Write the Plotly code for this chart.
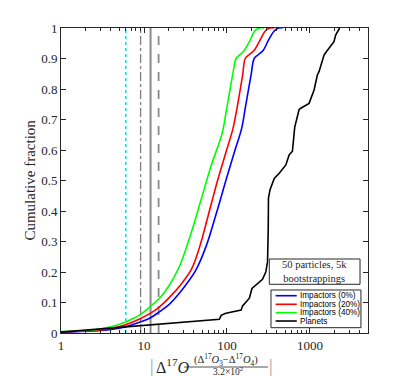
import plotly.graph_objects as go

# ---------------- data ----------------
blue_x = [1, 2.44, 4, 6.1, 9, 12, 15.4, 20, 26.8, 34, 42.5, 56, 74, 97, 125, 150, 166, 195, 213, 240, 274, 316, 371, 420, 467]
blue_y = [0.003, 0.007, 0.012, 0.021, 0.036, 0.05, 0.07, 0.093, 0.131, 0.168, 0.208, 0.284, 0.39, 0.5, 0.6, 0.67, 0.737, 0.846, 0.9, 0.913, 0.927, 0.96, 0.99, 1.0, 1.0]

red_x = [1, 2.44, 4, 6.1, 9, 12, 15.4, 20, 28, 37.5, 47, 60, 77, 99, 118, 132, 154.5, 166, 186, 213, 250, 289, 330, 371]
red_y = [0.004, 0.008, 0.015, 0.028, 0.047, 0.065, 0.086, 0.115, 0.16, 0.21, 0.284, 0.39, 0.5, 0.6, 0.67, 0.737, 0.846, 0.9, 0.913, 0.927, 0.96, 0.99, 1.0, 1.0]

green_x = [1, 2.44, 4, 6.1, 9, 12, 15.4, 20, 26.8, 37, 48.7, 64, 87.4, 99.3, 117, 128.5, 141, 157, 186, 213, 245, 280]
green_y = [0.005, 0.01, 0.02, 0.037, 0.06, 0.088, 0.114, 0.155, 0.219, 0.328, 0.437, 0.546, 0.655, 0.737, 0.846, 0.9, 0.911, 0.922, 0.955, 0.988, 1.0, 1.0]

planets_x = [1, 81, 85, 95, 107, 148, 154, 186, 200, 234, 268, 294, 308, 314, 316, 330, 371, 426, 512, 561, 614,
             655, 738, 775, 975, 1120, 1227, 1285, 1477, 1574, 1946, 2039, 2277]
planets_y = [0.003, 0.045, 0.058, 0.064, 0.067, 0.075, 0.089, 0.114, 0.146, 0.163, 0.176, 0.201, 0.234, 0.34, 0.442,
             0.47, 0.507, 0.524, 0.551, 0.584, 0.596, 0.675, 0.732, 0.737, 0.753, 0.797, 0.846, 0.857, 0.911, 0.922,
             0.955, 0.977, 1.0]

vline_x = [6.03, 9.1, 12.0, 15.0]
vline_y = [0, 1]

series_names = ["Impactors (0%)", "Impactors (20%)", "Impactors (40%)", "Planets"]
series_colors = ["#0000FF", "#FF0000", "#00FF00", "#000000"]
y_tickvals = [0, 0.1, 0.2, 0.3, 0.4, 0.5, 0.6, 0.7, 0.8, 0.9, 1]
y_ticktext = ["0", "0.1", "0.2", "0.3", "0.4", "0.5", "0.6", "0.7", "0.8", "0.9", "1"]
x_tickvals = [1, 10, 100, 1000]
x_ticktext = ["1", "10", "100", "1000"]
x_minor_tickvals = [2, 3, 4, 5, 6, 7, 8, 9, 20, 30, 40, 50, 60, 70, 80, 90,
                    200, 300, 400, 500, 600, 700, 800, 900, 2000, 3000, 4000]

# ---------------- figure ----------------
fig = go.Figure()

vstyles = [
    dict(color="#00E5EE", dash="dot", width=1.6),
    dict(color="#7f7f7f", dash="dashdot", width=1.3),
    dict(color="#8a8a8a", dash="solid", width=2),
    dict(color="#8a8a8a", dash="dash", width=1.8),
]
for vx, st in zip(vline_x, vstyles):
    fig.add_trace(go.Scatter(x=[vx, vx], y=vline_y, mode="lines", line=st,
                             showlegend=False, hoverinfo="skip"))

curves = [(blue_x, blue_y), (red_x, red_y), (green_x, green_y)]
for (cx, cy), nm, col in zip(curves, series_names[:3], series_colors[:3]):
    fig.add_trace(go.Scatter(x=cx, y=cy, mode="lines", name=nm, showlegend=False,
                             line=dict(color=col, width=1.6, shape="spline", smoothing=1.0)))
fig.add_trace(go.Scatter(x=planets_x, y=planets_y, mode="lines", name=series_names[3], showlegend=False,
                         line=dict(color=series_colors[3], width=1.6)))

serif = "Liberation Serif"
axis_col = "#262626"

fig.update_layout(
    width=415, height=376, autosize=False,
    margin=dict(l=61, r=47, t=28, b=43),
    paper_bgcolor="white", plot_bgcolor="white",
    font=dict(family=serif, size=13, color=axis_col),
    showlegend=False,
)
fig.update_xaxes(
    type="log", range=[0, 3.699], showgrid=False, zeroline=False, automargin=False,
    tickvals=x_tickvals, ticktext=x_ticktext,
    ticks="inside", ticklen=5, tickcolor=axis_col, tickwidth=1,
    showline=True, linecolor=axis_col, linewidth=1, mirror="ticks",
    minor=dict(tickvals=x_minor_tickvals, ticks="inside", ticklen=3, tickcolor=axis_col, showgrid=False),
    tickfont=dict(family=serif, size=13, color=axis_col),
)
fig.update_yaxes(
    range=[0, 1], showgrid=False, zeroline=False, automargin=False,
    tickvals=y_tickvals, ticktext=y_ticktext,
    ticks="inside", ticklen=5, tickcolor=axis_col, tickwidth=1,
    showline=True, linecolor=axis_col, linewidth=1, mirror="ticks",
    tickfont=dict(family=serif, size=13, color=axis_col),
)

# y axis title
fig.add_annotation(xref="paper", yref="paper", x=-0.104, y=0.5, xanchor="center", yanchor="middle",
                   text="Cumulative fraction", textangle=-90, showarrow=False,
                   font=dict(family=serif, size=15, color=axis_col))

# text box
fig.add_shape(type="rect", xref="paper", yref="paper", x0=0.6785, x1=0.974, y0=0.1597, y1=0.2426,
              line=dict(color=axis_col, width=1), fillcolor="white", layer="above")
fig.add_annotation(xref="paper", yref="paper", x=0.826, y=0.201, xanchor="center", yanchor="middle",
                   text="50 particles, 5k<br>bootstrappings", showarrow=False,
                   font=dict(family=serif, size=10.5, color=axis_col))

# manual legend
fig.add_shape(type="rect", xref="paper", yref="paper", x0=0.684, x1=0.977, y0=0.0174, y1=0.141,
              line=dict(color=axis_col, width=1), fillcolor="white", layer="above")
legend_rows = [0.1223, 0.0941, 0.0666, 0.0393]
for nm, col, ry in zip(series_names, series_colors, legend_rows):
    fig.add_shape(type="line", xref="paper", yref="paper", x0=0.699, x1=0.768, y0=ry, y1=ry,
                  line=dict(color=col, width=1.6), layer="above")
    fig.add_annotation(xref="paper", yref="paper", x=0.771, y=ry, xanchor="left", yanchor="middle",
                       text=nm, showarrow=False,
                       font=dict(family="Liberation Sans", size=8.2, color="black"))

# x axis title pieces (fraction in exponent)
fig.add_annotation(xref="paper", yref="paper", x=0.296, y=-0.108, xanchor="center", yanchor="middle",
                   text="|", showarrow=False,
                   font=dict(family=serif, size=18, color="#999999"))
fig.add_annotation(xref="paper", yref="paper", x=0.364, y=-0.108, xanchor="center", yanchor="middle",
                   text="Δ<sup>17</sup><i>O</i>", showarrow=False,
                   font=dict(family=serif, size=16, color=axis_col))
fig.add_annotation(xref="paper", yref="paper", x=0.537, y=-0.088, xanchor="center", yanchor="middle",
                   text="(Δ<sup>17</sup><i>O</i><sub>3</sub>−Δ<sup>17</sup><i>O</i><sub>4</sub>)", showarrow=False,
                   font=dict(family=serif, size=10.5, color=axis_col))
fig.add_annotation(xref="paper", yref="paper", x=0.543, y=-0.124, xanchor="center", yanchor="middle",
                   text="3.2×10<sup>2</sup>", showarrow=False,
                   font=dict(family=serif, size=9.5, color=axis_col))
fig.add_annotation(xref="paper", yref="paper", x=0.683, y=-0.108, xanchor="center", yanchor="middle",
                   text="|", showarrow=False,
                   font=dict(family=serif, size=18, color="#999999"))
fig.add_shape(type="line", xref="paper", yref="paper", x0=0.401, x1=0.674, y0=-0.1115, y1=-0.1115,
              line=dict(color=axis_col, width=0.8))

fig.write_html("out.html", config={"displayModeBar": False},
               post_script="document.body.style.margin='0';document.body.style.overflow='hidden';")
